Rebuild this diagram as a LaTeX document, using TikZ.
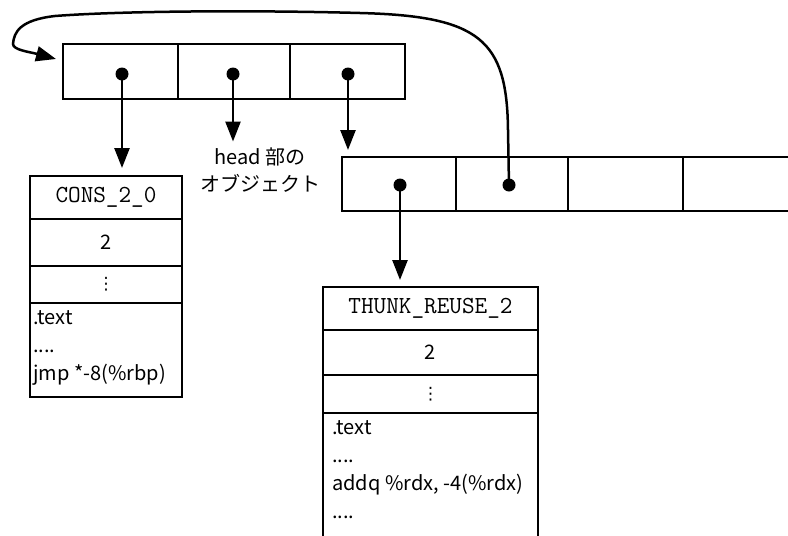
\documentclass[tikz,border=0pt]{standalone}
\usepackage{fontspec}
\usetikzlibrary{arrows.meta}
\newfontfamily\jpfont{Noto Sans CJK JP}
\newfontfamily\symfont{DejaVu Sans}
\newcommand\tagfont{\ttfamily\fontsize{24.5}{26}\selectfont}

\tikzset{
  cell/.style={draw, line width=2.5pt, inner sep=0pt, outer sep=0pt, anchor=north west},
  ptr/.style={circle, fill=black, inner sep=0pt, minimum size=13pt},
  arr/.style={-{Triangle[length=20pt,width=15pt]}, line width=2.5pt},
  tagtext/.style={font=\tagfont},
  valtext/.style={font=\jpfont\fontsize{20}{24}\selectfont},
  dotstext/.style={font=\symfont\fontsize{17}{20}\selectfont, inner sep=0pt},
  codetext/.style={font=\jpfont\fontsize{20}{28}\selectfont, align=left, anchor=north west, inner sep=0pt},
}

\begin{document}
\begin{tikzpicture}[x=1pt, y=-1pt]
  \useasboundingbox (0,0) rectangle (788,536);
  \clip (0,0) rectangle (788,536);

  % upper three-slot array
  \node[cell, minimum width=115pt, minimum height=55pt] (t1) at (63,44) {};
  \node[cell, minimum width=112pt, minimum height=55pt] (t2) at (t1.north east) {};
  \node[cell, minimum width=115pt, minimum height=55pt] (t3) at (t2.north east) {};
  \node[ptr] (d1) at (122,74) {};
  \node[ptr] (d2) at (233,74) {};
  \node[ptr] (d3) at (348,74) {};

  % lower array
  \node[cell, minimum width=114pt, minimum height=54pt] (r1) at (342,157) {};
  \node[cell, minimum width=112pt, minimum height=54pt] (r2) at (r1.north east) {};
  \node[cell, minimum width=115pt, minimum height=54pt] (r3) at (r2.north east) {};
  \node[cell, minimum width=120pt, minimum height=54pt] (r4) at (r3.north east) {};
  \node[ptr] (d4) at (400,185) {};
  \node[ptr] (d5) at (509,185) {};

  % label
  \node[valtext, align=center, inner sep=2pt] (lbl) at (260,170)
    {head 部の\\[3pt]オブジェクト};

  % CONS_2_0 object
  \node[cell, minimum width=152pt, minimum height=43pt, tagtext] (c1) at (30,176) {CONS\_2\_0};
  \node[cell, minimum width=152pt, minimum height=47pt, valtext] (c2) at (c1.south west) {2};
  \node[cell, minimum width=152pt, minimum height=37pt, dotstext] (c3) at (c2.south west) {⋮};
  \node[cell, minimum width=152pt, minimum height=94pt] (c4) at (c3.south west) {};
  \node[codetext] (c4t) at ([xshift=3pt,yshift=-7pt]c4.north west)
    {.text\\....\\jmp *-8(\%rbp)};

  % THUNK_REUSE_2 object
  \node[cell, minimum width=215pt, minimum height=43pt, tagtext] (h1) at (323,287) {THUNK\_REUSE\_2};
  \node[cell, minimum width=215pt, minimum height=45pt, valtext] (h2) at (h1.south west) {2};
  \node[cell, minimum width=215pt, minimum height=38pt, dotstext] (h3) at (h2.south west) {⋮};
  \node[cell, minimum width=215pt, minimum height=160pt] (h4) at (h3.south west) {};
  \node[codetext] (h4t) at ([xshift=9pt,yshift=-7pt]h4.north west)
    {.text\\....\\addq \%rdx, -4(\%rdx)\\....};

  % pointers
  \draw[arr, shorten >=8pt] (d1.center) -- (d1 |- c1.north);
  \draw[arr, shorten >=4pt] (d2.center) -- (d2 |- lbl.north);
  \draw[arr, shorten >=7pt] (d3.center) -- (d3 |- r1.north);
  \draw[arr, shorten >=7pt] (d4.center) -- (d4 |- h1.north);

  % back pointer to the upper array
  \coordinate (ret) at (56,59);
  \draw[arr] (d5.center) -- (508,130)
    .. controls (507,40) and (480,16) .. (360,13)
    .. controls (250,10) and (120,11) .. (55,16)
    .. controls (20,20) and (14,32) .. (13,44)
    .. controls (13,50) and (30,52) .. (ret);
\end{tikzpicture}
\end{document}
